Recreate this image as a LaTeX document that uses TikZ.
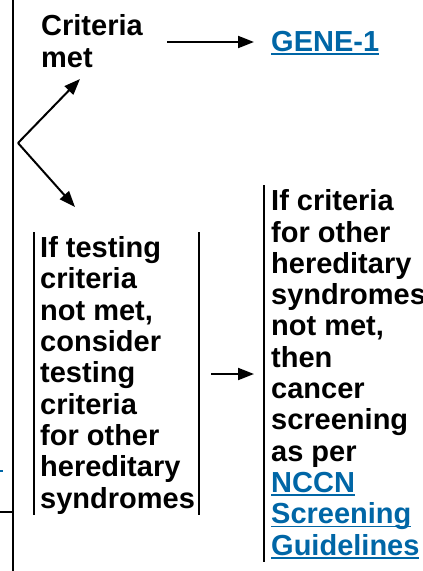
\documentclass[tikz,border=0pt]{standalone}
\usepackage{fontspec}
\setmainfont{Liberation Sans}
\usetikzlibrary{arrows.meta}
\definecolor{nccnblue}{RGB}{0,102,166}
\newcommand\lnk[1]{{\color{nccnblue}\setbox0\hbox{#1}\rlap{\rule[-3.5pt]{\wd0}{1.7pt}}\box0}}
\tikzset{
  txt/.style={align=left, inner sep=0pt, anchor=base west},
  rule/.style={line width=2.2pt},
  arr/.style={line width=2pt, -{Triangle[length=16pt,width=12pt]}}
}
\begin{document}
\begin{tikzpicture}[x=1pt,y=-1pt,font=\fontsize{29}{31.3}\selectfont\bfseries]
\useasboundingbox (0,0) rectangle (423,571);
% left frame
\draw[rule] (13,0) -- (13,571);
\draw[rule] (0,512) -- (13,512);
\draw[line width=1.5pt, nccnblue] (0,471) -- (3,471);
% texts (base anchor = baseline of last line)
\node[txt] (crit) at (41,67) {Criteria\\met};
\node[txt] (gene) at (271,51) {\lnk{GENE-1}};
\node[txt] (notmet) at (40,508) {If testing\\criteria\\not met,\\consider\\testing\\criteria\\for other\\hereditary\\syndromes};
\node[txt] (screen) at (271,555) {If criteria\\for other\\hereditary\\syndromes\\not met,\\then\\cancer\\screening\\as per\\\lnk{NCCN}\\\lnk{Screening}\\\lnk{Guidelines}};
% box rules
\draw[rule] (34,232) -- (34,515);
\draw[rule] (199,232) -- (199,515);
\draw[rule] (264,185) -- (264,562);
% connectors
\coordinate (split) at (18,143);
\coordinate (a1s) at (167,42);
\coordinate (a1e) at (254,42);
\coordinate (up) at (80,79);
\coordinate (dn) at (75,207);
\coordinate (a2s) at (211,374);
\coordinate (a2e) at (254,374);
\draw[arr] (a1s) -- (a1e);
\draw[arr] (split) -- (up);
\draw[arr] (split) -- (dn);
\draw[arr] (a2s) -- (a2e);
\end{tikzpicture}
\end{document}
